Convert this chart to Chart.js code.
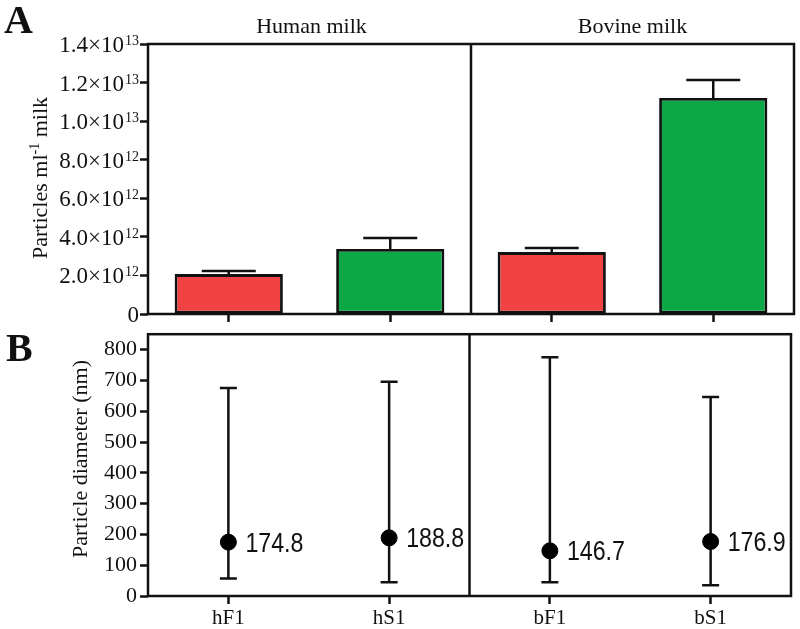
<!DOCTYPE html>
<html>
<head>
<meta charset="utf-8">
<script src="https://cdn.jsdelivr.net/npm/chart.js@4.4.1/dist/chart.umd.min.js"></script>
<style>
  html, body { margin: 0; padding: 0; background: #fff; }
  #wrap { position: relative; width: 800px; height: 629px; }
  canvas { position: absolute; left: 0; }
  #panel-a { top: 0; }
  #panel-b { top: 318px; }
</style>
</head>
<body>
<div id="wrap">
  <canvas id="panel-a" width="800" height="326"></canvas>
  <canvas id="panel-b" width="800" height="311"></canvas>
</div>
<script>
const categories = ['hF1', 'hS1', 'bF1', 'bS1'];
const groups = ['Human milk', 'Bovine milk'];

// panel A: particle concentration (mean and upper SD)
const particleCounts = [2.07e12, 3.37e12, 3.21e12, 11.2e12];
const particleErrors = [0.16e12, 0.57e12, 0.21e12, 0.93e12];
const countTicks = [0, 2e12, 4e12, 6e12, 8e12, 1e13, 1.2e13, 1.4e13];

// panel B: particle diameter (mode and range)
const diameterModes = [174.8, 188.8, 146.7, 176.9];
const diameterLow = [57, 45, 45, 35];
const diameterHigh = [675, 696, 775, 646];
const diameterTicks = [0, 100, 200, 300, 400, 500, 600, 700, 800];

const red = 'rgb(240, 66, 66)';
const green = 'rgb(12, 168, 72)';
const ink = '#111';
const serif = '"Liberation Serif", "Times New Roman", serif';
const sans = '"Liberation Sans", Arial, sans-serif';

const barColors = categories.map(c => c.charAt(1) === 'F' ? red : green);

function drawBox(chart) {
  const { ctx, chartArea: a, scales: { x } } = chart;
  const mid = (x.getPixelForValue(1) + x.getPixelForValue(2)) / 2;
  ctx.save();
  ctx.strokeStyle = ink;
  ctx.lineWidth = 2.5;
  ctx.strokeRect(a.left, a.top, a.right - a.left, a.bottom - a.top);
  ctx.beginPath();
  ctx.moveTo(mid, a.top);
  ctx.lineTo(mid, a.bottom);
  ctx.stroke();
  ctx.restore();
}

function rotatedTitle(ctx, bx, cy, parts, size) {
  ctx.save();
  ctx.translate(bx, cy);
  ctx.rotate(-Math.PI / 2);
  ctx.fillStyle = ink;
  ctx.textBaseline = 'alphabetic';
  let total = 0;
  parts.forEach(p => {
    ctx.font = (p.sup ? Math.round(size * 0.62) : size) + 'px ' + serif;
    p.w = ctx.measureText(p.t).width;
    total += p.w;
  });
  let px = -total / 2;
  parts.forEach(p => {
    ctx.font = (p.sup ? Math.round(size * 0.62) : size) + 'px ' + serif;
    ctx.fillText(p.t, px, p.sup ? -size * 0.38 : 0);
    px += p.w;
  });
  ctx.restore();
}

const panelA = {
  id: 'panelA',
  afterDraw(chart) {
    const { ctx, chartArea: a, scales: { x, y } } = chart;
    drawBox(chart);
    ctx.save();
    ctx.strokeStyle = ink;
    ctx.lineWidth = 2.5;
    // upper error bars
    particleCounts.forEach((v, i) => {
      const px = x.getPixelForValue(i);
      const y0 = y.getPixelForValue(v);
      const y1 = y.getPixelForValue(v + particleErrors[i]);
      ctx.beginPath();
      ctx.moveTo(px, y0);
      ctx.lineTo(px, y1);
      ctx.moveTo(px - 27, y1);
      ctx.lineTo(px + 27, y1);
      ctx.stroke();
    });
    // group titles
    ctx.fillStyle = ink;
    ctx.font = '22px ' + serif;
    ctx.textAlign = 'center';
    ctx.textBaseline = 'alphabetic';
    const mid = (x.getPixelForValue(1) + x.getPixelForValue(2)) / 2;
    ctx.fillText(groups[0], (a.left + mid) / 2 + 2, 33);
    ctx.fillText(groups[1], (mid + a.right) / 2, 33);
    // y tick labels with powers of ten
    ctx.textAlign = 'left';
    y.ticks.forEach(t => {
      const py = y.getPixelForValue(t.value);
      const right = a.left - 9;
      if (t.value === 0) {
        ctx.font = '23px ' + serif;
        ctx.textAlign = 'right';
        ctx.fillText('0', right, py + 8);
        ctx.textAlign = 'left';
        return;
      }
      const e = Math.floor(Math.log10(t.value) + 1e-9);
      const main = (t.value / Math.pow(10, e)).toFixed(1) + '\u00d710';
      const sup = String(e);
      ctx.font = '23px ' + serif;
      const wm = ctx.measureText(main).width;
      ctx.font = '14px ' + serif;
      const ws = ctx.measureText(sup).width;
      const start = right - wm - ws - 1;
      ctx.font = '23px ' + serif;
      ctx.fillText(main, start, py + 8);
      ctx.font = '14px ' + serif;
      ctx.fillText(sup, start + wm + 1, py + 1);
    });
    ctx.restore();
    rotatedTitle(ctx, 47, 178, [
      { t: 'Particles ml' }, { t: '-1', sup: true }, { t: ' milk' }
    ], 22);
    ctx.save();
    ctx.fillStyle = ink;
    ctx.font = 'bold 40px ' + serif;
    ctx.fillText('A', 4, 33);
    ctx.restore();
  }
};

new Chart(document.getElementById('panel-a'), {
  type: 'bar',
  data: {
    labels: categories,
    datasets: [{
      data: particleCounts,
      backgroundColor: barColors,
      borderColor: ink,
      borderWidth: 2.8,
      borderSkipped: false,
      barPercentage: 0.67,
      categoryPercentage: 1
    }]
  },
  options: {
    responsive: false,
    animation: false,
    layout: { padding: { top: 44, right: 6, left: 0, bottom: 4 } },
    plugins: { legend: { display: false }, tooltip: { enabled: false } },
    scales: {
      x: {
        offset: true,
        grid: { offset: false, drawOnChartArea: false, tickLength: 8, tickWidth: 2.5, tickColor: ink },
        border: { display: false },
        ticks: { display: false },
        afterFit: s => { s.height = 8; }
      },
      y: {
        min: 0,
        max: 1.4e13,
        afterBuildTicks: s => { s.ticks = countTicks.map(v => ({ value: v })); },
        grid: { drawOnChartArea: false, tickLength: 8, tickWidth: 2.5, tickColor: ink },
        border: { display: false },
        ticks: { display: false },
        afterFit: s => { s.width = 148; }
      }
    }
  },
  plugins: [panelA]
});

const panelB = {
  id: 'panelB',
  beforeDatasetsDraw(chart) {
    const { ctx, scales: { x, y } } = chart;
    ctx.save();
    ctx.strokeStyle = ink;
    ctx.lineWidth = 2.5;
    diameterModes.forEach((v, i) => {
      const px = x.getPixelForValue(i);
      const lo = y.getPixelForValue(diameterLow[i]);
      const hi = y.getPixelForValue(diameterHigh[i]);
      ctx.beginPath();
      ctx.moveTo(px, lo);
      ctx.lineTo(px, hi);
      ctx.moveTo(px - 8.5, lo);
      ctx.lineTo(px + 8.5, lo);
      ctx.moveTo(px - 8.5, hi);
      ctx.lineTo(px + 8.5, hi);
      ctx.stroke();
    });
    ctx.restore();
  },
  afterDraw(chart) {
    const { ctx, scales: { x, y } } = chart;
    drawBox(chart);
    ctx.save();
    ctx.fillStyle = ink;
    ctx.textAlign = 'left';
    ctx.textBaseline = 'middle';
    // value labels, slightly narrowed like the original figure
    diameterModes.forEach((v, i) => {
      ctx.save();
      ctx.translate(x.getPixelForValue(i) + 17, y.getPixelForValue(v) + 2);
      ctx.scale(0.86, 1);
      ctx.font = '27px ' + sans;
      ctx.fillText(v.toFixed(1), 0, 0);
      ctx.restore();
    });
    ctx.font = 'bold 40px ' + serif;
    ctx.textBaseline = 'alphabetic';
    ctx.fillText('B', 6, 43);
    ctx.restore();
    rotatedTitle(ctx, 87, 141, [{ t: 'Particle diameter (nm)' }], 22);
  }
};

new Chart(document.getElementById('panel-b'), {
  type: 'line',
  data: {
    labels: categories,
    datasets: [{
      data: diameterModes,
      showLine: false,
      pointRadius: 8,
      pointBackgroundColor: '#000',
      pointBorderColor: '#000',
      pointBorderWidth: 1
    }]
  },
  options: {
    responsive: false,
    animation: false,
    layout: { padding: { top: 8, right: 6, left: 0, bottom: 0 } },
    plugins: { legend: { display: false }, tooltip: { enabled: false } },
    scales: {
      x: {
        offset: true,
        grid: { offset: false, drawOnChartArea: false, tickLength: 8, tickWidth: 2.5, tickColor: ink },
        border: { display: false },
        ticks: { color: ink, font: { family: serif, size: 21 }, padding: 2 },
        afterFit: s => { s.height = 33; }
      },
      y: {
        min: 0,
        max: 850,
        afterBuildTicks: s => { s.ticks = diameterTicks.map(v => ({ value: v })); },
        grid: { drawOnChartArea: false, tickLength: 8, tickWidth: 2.5, tickColor: ink },
        border: { display: false },
        ticks: { color: ink, font: { family: serif, size: 22 }, padding: 3 },
        afterFit: s => { s.width = 148; }
      }
    }
  },
  plugins: [panelB]
});
</script>
</body>
</html>
